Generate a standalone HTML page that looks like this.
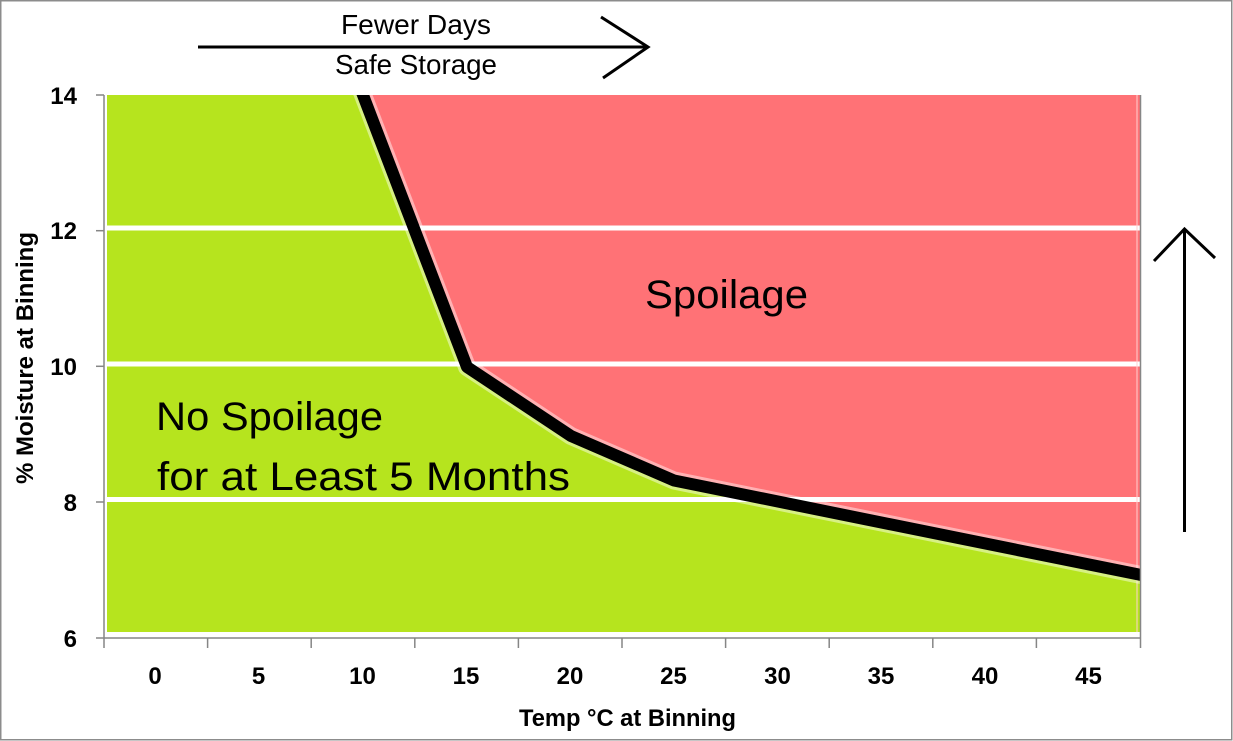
<!DOCTYPE html>
<html>
<head>
<meta charset="utf-8">
<style>
  html, body { margin:0; padding:0; background:#fff; }
  body { width:1233px; height:741px; overflow:hidden; }
  svg { display:block; }
  text { font-family: "Liberation Sans", sans-serif; }
</style>
</head>
<body>
<svg width="1233" height="741" viewBox="0 0 1233 741" xmlns="http://www.w3.org/2000/svg">
  <defs>
    <clipPath id="plot">
      <rect x="106" y="95" width="1034" height="537"/>
    </clipPath>
  </defs>
  <rect x="0" y="0" width="1233" height="741" fill="#fff"/>
  <!-- outer border -->
  <rect x="0.75" y="0.75" width="1231" height="739" fill="none" stroke="#8c8c8c" stroke-width="1.5"/>

  <!-- green area -->
  <rect x="107" y="95" width="1033" height="537" fill="#b6e41e"/>
  <!-- red area -->
  <g clip-path="url(#plot)">
    <polygon points="358,82 467,367 571,436 674,480.5 1146,576 1146,80 358,80" fill="#ff7276"/>
  </g>

  <!-- gridlines (white bands) -->
  <rect x="107" y="225.5" width="1033" height="5" fill="#ffffff"/>
  <rect x="107" y="361.5" width="1033" height="5" fill="#ffffff"/>
  <rect x="107" y="497" width="1033" height="5" fill="#ffffff"/>
  <rect x="107" y="632" width="1033" height="6" fill="#ffffff"/>
  <!-- faint right border inside plot -->
  <line x1="1137" y1="95" x2="1137" y2="632" stroke="#ffd0d0" stroke-width="1"/>

  <!-- boundary line -->
  <g clip-path="url(#plot)">
    <polyline points="358,82 467,367 571,436 674,480.5 1146,576" fill="none" stroke="#ffffff" stroke-opacity="0.45" stroke-width="18" stroke-linejoin="round"/>
    <polyline points="358,82 467,367 571,436 674,480.5 1146,576" fill="none" stroke="#000" stroke-width="12" stroke-linejoin="round"/>
  </g>

  <!-- axes -->
  <g stroke="#868686" stroke-width="1.5" fill="none">
    <line x1="104" y1="95" x2="104" y2="638"/>
    <line x1="104" y1="638" x2="1141" y2="638"/>
    <line x1="96" y1="95" x2="104" y2="95"/>
    <line x1="96" y1="230.7" x2="104" y2="230.7"/>
    <line x1="96" y1="366.3" x2="104" y2="366.3"/>
    <line x1="96" y1="502" x2="104" y2="502"/>
    <line x1="96" y1="638" x2="104" y2="638"/>
    <line x1="104" y1="638" x2="104" y2="648"/>
    <line x1="207.6" y1="638" x2="207.6" y2="648"/>
    <line x1="311.2" y1="638" x2="311.2" y2="648"/>
    <line x1="414.8" y1="638" x2="414.8" y2="648"/>
    <line x1="518.4" y1="638" x2="518.4" y2="648"/>
    <line x1="622" y1="638" x2="622" y2="648"/>
    <line x1="725.6" y1="638" x2="725.6" y2="648"/>
    <line x1="829.2" y1="638" x2="829.2" y2="648"/>
    <line x1="932.8" y1="638" x2="932.8" y2="648"/>
    <line x1="1036.4" y1="638" x2="1036.4" y2="648"/>
    <line x1="1140.5" y1="95" x2="1140.5" y2="648"/>
  </g>

  <!-- y tick labels -->
  <g font-size="24" font-weight="bold" fill="#000" text-anchor="end">
    <text x="77" y="104">14</text>
    <text x="77" y="239">12</text>
    <text x="77" y="375">10</text>
    <text x="77" y="511">8</text>
    <text x="77" y="647">6</text>
  </g>
  <!-- x tick labels -->
  <g font-size="24" font-weight="bold" fill="#000" text-anchor="middle">
    <text x="155" y="684">0</text>
    <text x="258.5" y="684">5</text>
    <text x="362.5" y="684">10</text>
    <text x="466" y="684">15</text>
    <text x="570" y="684">20</text>
    <text x="673.5" y="684">25</text>
    <text x="777.5" y="684">30</text>
    <text x="881" y="684">35</text>
    <text x="985" y="684">40</text>
    <text x="1088.5" y="684">45</text>
  </g>

  <!-- axis titles -->
  <text x="519" y="726" font-size="24" font-weight="bold" textLength="217" lengthAdjust="spacingAndGlyphs">Temp °C at Binning</text>
  <text transform="translate(33,484) rotate(-90)" x="0" y="0" font-size="24" font-weight="bold" textLength="252" lengthAdjust="spacingAndGlyphs">% Moisture at Binning</text>

  <!-- annotations -->
  <text x="645" y="308" font-size="40" fill="#000" textLength="163" lengthAdjust="spacingAndGlyphs">Spoilage</text>
  <text x="156" y="430" font-size="40" fill="#000" textLength="227" lengthAdjust="spacingAndGlyphs">No Spoilage</text>
  <text x="157" y="490" font-size="40" fill="#000" textLength="413" lengthAdjust="spacingAndGlyphs">for at Least 5 Months</text>

  <!-- top arrow -->
  <text x="341" y="34" font-size="28" fill="#000" textLength="150" lengthAdjust="spacingAndGlyphs">Fewer Days</text>
  <text x="335" y="74" font-size="28" fill="#000" textLength="162" lengthAdjust="spacingAndGlyphs">Safe Storage</text>
  <g stroke="#000" stroke-width="3" fill="none" stroke-linecap="butt">
    <line x1="198" y1="47" x2="647" y2="47"/>
    <polyline points="601,17 648,47 603,78"/>
  </g>

  <!-- right vertical arrow -->
  <g stroke="#000" stroke-width="3" fill="none">
    <line x1="1184.5" y1="532" x2="1184.5" y2="229"/>
    <polyline points="1154,261 1184.5,229 1215,258"/>
  </g>
</svg>
</body>
</html>
